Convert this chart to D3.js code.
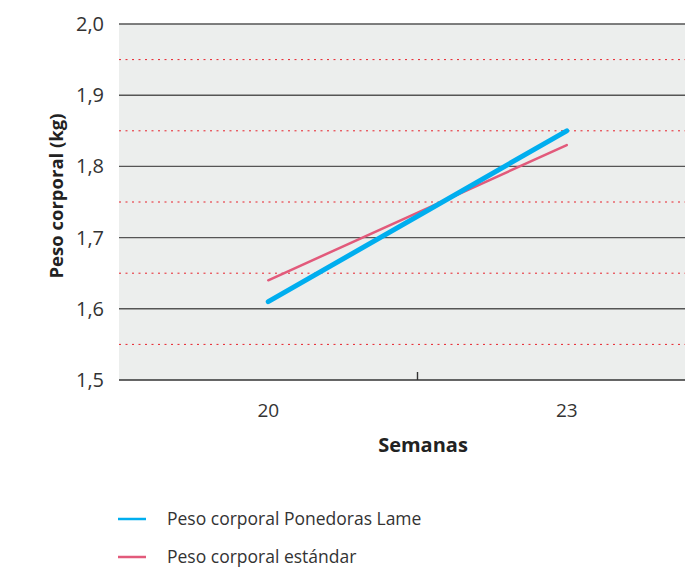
<!DOCTYPE html>
<html><head><meta charset="utf-8">
<script src="https://cdn.jsdelivr.net/npm/d3@7"></script>
<style>body{margin:0;background:#fff}svg{display:block;font-family:"Open Sans",sans-serif}</style>
</head><body><svg id="c" width="685" height="567"></svg>
<script>
const weeks = ["20", "23"];
const lameValues = [1.61, 1.85];
const standardValues = [1.64, 1.83];
const yTicks = [1.5, 1.6, 1.7, 1.8, 1.9, 2.0];
const yMinorTicks = [1.55, 1.65, 1.75, 1.85, 1.95];
const seriesNames = ["Peso corporal Ponedoras Lame", "Peso corporal estándar"];
const colors = ["#00aeef", "#e25a7b"];

const svg = d3.select("#c");
const L = 119, T = 24, B = 380;
const x = d3.scaleBand().domain(weeks).range([L, L + 2 * 298.5]).paddingInner(0).paddingOuter(0);
const y = d3.scaleLinear().domain([1.5, 2.0]).range([B, T]);
const cx = d => x(d) + x.bandwidth() / 2;

svg.append("rect").attr("x", L).attr("y", T).attr("width", 685 - L).attr("height", B - T).attr("fill", "#eceeed");

svg.selectAll(".minor").data(yMinorTicks).join("line")
  .attr("x1", L).attr("x2", 685).attr("y1", d => y(d)).attr("y2", d => y(d))
  .attr("stroke", "#e8202a").attr("stroke-width", 1).attr("stroke-dasharray", "2,4.5");

svg.selectAll(".major").data(yTicks).join("line")
  .attr("x1", L).attr("x2", 685).attr("y1", d => y(d)).attr("y2", d => y(d))
  .attr("stroke", d => d === 1.5 ? "#333" : "#555").attr("stroke-width", 1.4);

svg.selectAll(".ylab").data(yTicks).join("text")
  .attr("x", 104).attr("y", d => y(d)).attr("dy", "0.35em").attr("text-anchor", "end")
  .attr("font-size", 20).attr("fill", "#333").text(d => d3.format(".1f")(d).replace(".", ","));

// x band boundary tick
svg.append("line").attr("x1", x("23")).attr("x2", x("23")).attr("y1", B).attr("y2", B - 8)
  .attr("stroke", "#333").attr("stroke-width", 1.4);

svg.selectAll(".xlab").data(weeks).join("text")
  .attr("x", d => cx(d)).attr("y", 417).attr("text-anchor", "middle")
  .attr("font-size", 19).attr("fill", "#333").text(d => d);

svg.append("text").attr("x", 423).attr("y", 452).attr("text-anchor", "middle")
  .attr("font-size", 20).attr("font-weight", "bold").attr("fill", "#222").text("Semanas");

svg.append("text").attr("transform", `translate(63,${196}) rotate(-90)`)
  .attr("text-anchor", "middle").attr("font-size", 18.5).attr("font-weight", "bold").attr("fill", "#222")
  .text("Peso corporal (kg)");

const line = d3.line().x((d, i) => cx(weeks[i])).y(d => y(d));
svg.append("path").attr("d", line(standardValues)).attr("fill", "none")
  .attr("stroke", colors[1]).attr("stroke-width", 2.5).attr("stroke-linecap", "round");
svg.append("path").attr("d", line(lameValues)).attr("fill", "none")
  .attr("stroke", colors[0]).attr("stroke-width", 5).attr("stroke-linecap", "round");

const lg = svg.selectAll(".lg").data(seriesNames).join("g")
  .attr("transform", (d, i) => `translate(118,${519 + i * 38})`);
lg.append("line").attr("x1", 0).attr("x2", 28).attr("stroke", (d, i) => colors[i]).attr("stroke-width", 2.5);
lg.append("text").attr("x", 49).attr("dy", "0.35em").attr("font-size", 17.5).attr("fill", "#333").text(d => d);
</script></body></html>
